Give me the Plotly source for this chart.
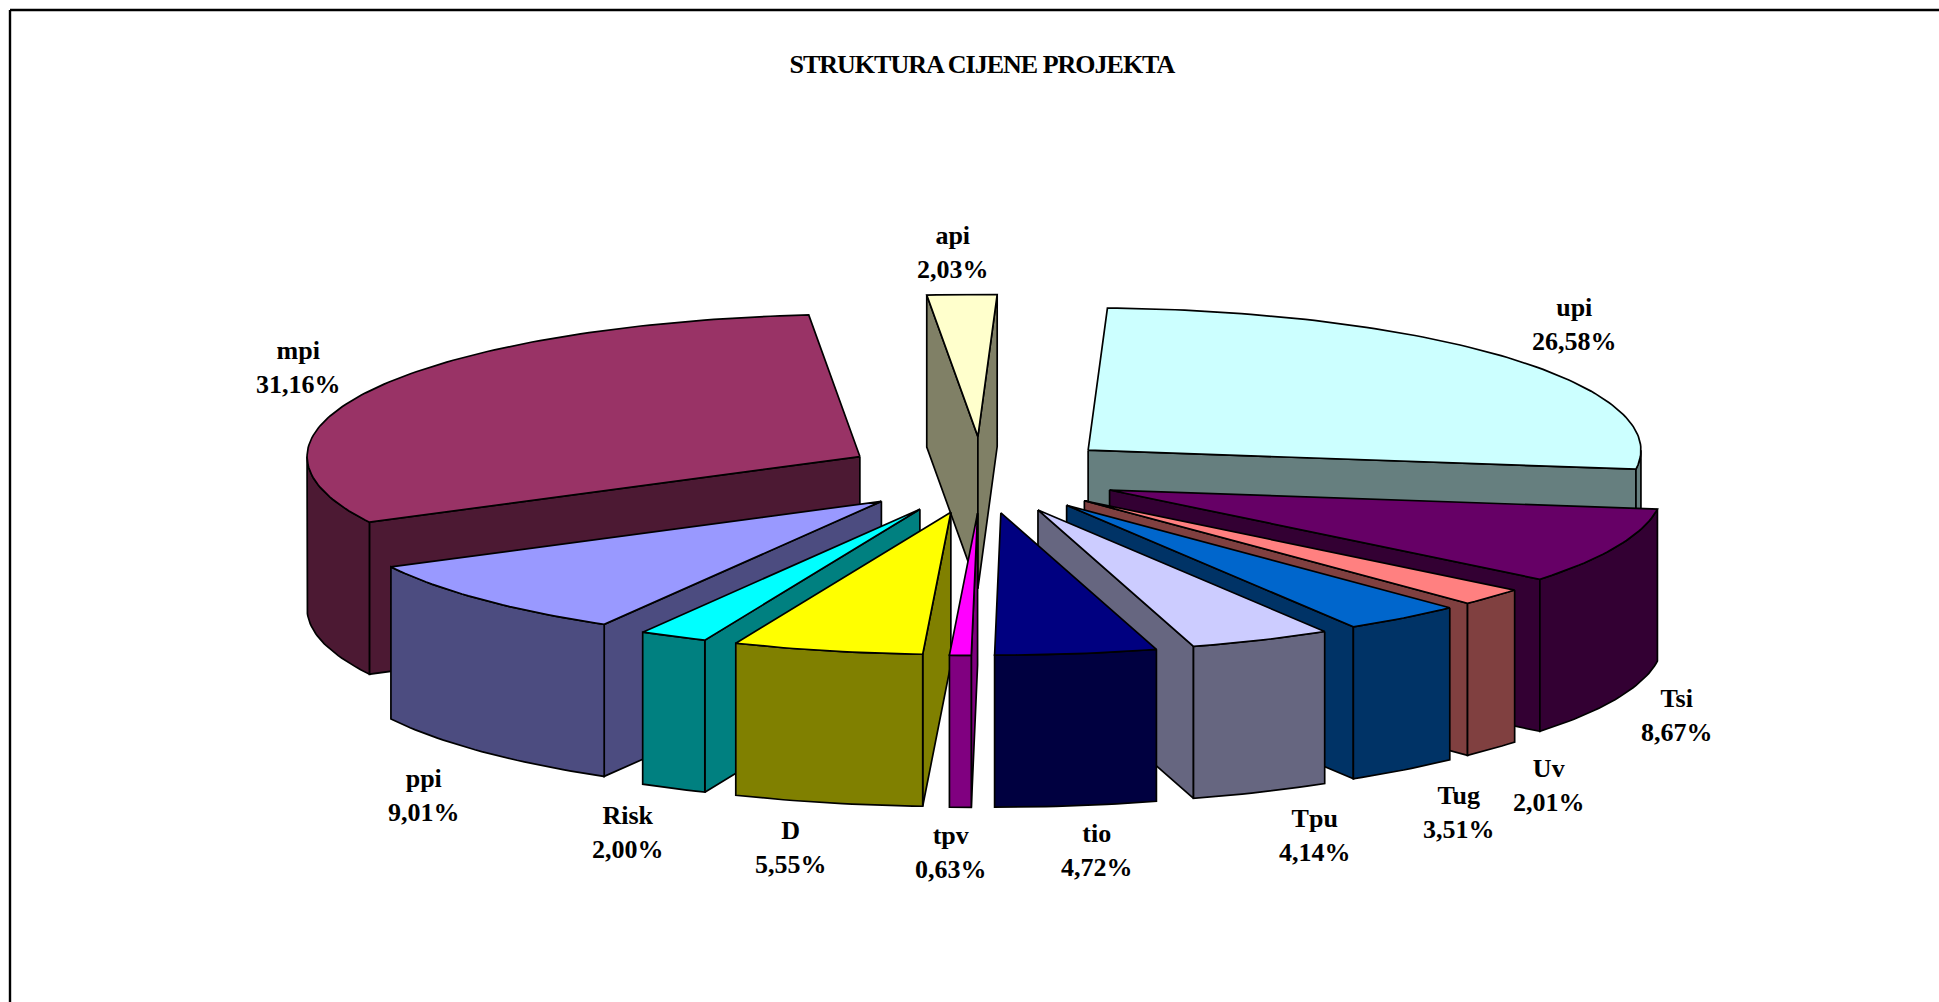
import math
import plotly.graph_objects as go

# --- data (clockwise from the top of the pie) ---
categories = ["upi", "Tsi", "Uv", "Tug", "Tpu", "tio", "tpv", "D", "Risk", "ppi", "mpi", "api"]
shares = [26.58, 8.67, 2.01, 3.51, 4.14, 4.72, 0.63, 5.55, 2.00, 9.01, 31.16, 2.03]
percent_labels = ["26,58%", "8,67%", "2,01%", "3,51%", "4,14%", "4,72%", "0,63%", "5,55%", "2,00%", "9,01%", "31,16%", "2,03%"]
top_colors = ["#CCFFFF", "#660066", "#FF8080", "#0066CC", "#CCCCFF", "#000080", "#FF00FF", "#FFFF00", "#00FFFF", "#9999FF", "#993366", "#FFFFCC"]
side_colors = ["#667F7F", "#330033", "#804040", "#003366", "#666680", "#000040", "#800080", "#808000", "#008080", "#4C4C80", "#4C1933", "#808066"]
label_x = [1574, 1677, 1549, 1459, 1315, 1097, 951, 791, 628, 424, 298, 953]
label_y = [324, 715, 785, 812, 835, 850, 852, 847, 832, 795, 367, 252]
title = "STRUKTURA CIJENE PROJEKTA"

# --- projection of the tilted, exploded pie ---
W, H_PX = 1939, 1002
CX, CY = 981.9, 474.9
RX, RY = 552.8, 142.2
EX, EY = 139.0, 38.3
DEPTH = 152.0
ROT = 2.0
total = sum(shares)


def point(angle, ox, oy, r=1.0, z=0.0):
    a = math.radians(angle)
    return ox + r * RX * math.sin(a), oy - r * RY * math.cos(a) + z


def arc(a0, a1, ox, oy, z=0.0):
    n = max(2, int(abs(a1 - a0) / 1.0) + 1)
    return [point(a0 + (a1 - a0) * i / (n - 1), ox, oy, 1.0, z) for i in range(n)]


def poly(fig, pts, color):
    xs = [p[0] for p in pts] + [pts[0][0]]
    ys = [p[1] for p in pts] + [pts[0][1]]
    fig.add_trace(go.Scatter(x=xs, y=ys, mode="lines", fill="toself", fillcolor=color,
                             line=dict(color="black", width=1.7), hoverinfo="skip", showlegend=False))


slices = []
acc = ROT
for name, v, top, side in zip(categories, shares, top_colors, side_colors):
    a0 = acc
    a1 = acc + v / total * 360
    acc = a1
    slices.append((a0, a1, top, side))

fig = go.Figure()
for a0, a1, top, side in sorted(slices, key=lambda s: -math.cos(math.radians((s[0] + s[1]) / 2))):
    mid = math.radians((a0 + a1) / 2)
    ox = CX + EX * math.sin(mid)
    oy = CY - EY * math.cos(mid)
    start, end = point(a0, ox, oy), point(a1, ox, oy)
    # start-edge wall faces the viewer when sin(a0) < 0, end-edge wall when sin(a1) > 0
    if math.sin(math.radians(a0)) < 0:
        poly(fig, [(ox, oy), start, (start[0], start[1] + DEPTH), (ox, oy + DEPTH)], side)
    if math.sin(math.radians(a1)) > 0:
        poly(fig, [(ox, oy), end, (end[0], end[1] + DEPTH), (ox, oy + DEPTH)], side)
    # curved outer wall: front half of the rim only
    lo, hi = max(a0, 90), min(a1, 270)
    if hi > lo:
        poly(fig, arc(lo, hi, ox, oy) + arc(hi, lo, ox, oy, DEPTH), side)
    poly(fig, [(ox, oy)] + arc(a0, a1, ox, oy), top)

for name, pct, lx, ly in zip(categories, percent_labels, label_x, label_y):
    fig.add_annotation(x=lx, y=ly, text=f"<b>{name}</b><br><b>{pct}</b>", showarrow=False, xanchor="center", yanchor="middle",
                       font=dict(family="Liberation Serif", size=26, color="black"))
fig.add_annotation(x=982, y=64, text=f"<b>{title}</b>", showarrow=False, xanchor="center", yanchor="middle",
                   font=dict(family="Liberation Serif", size=26, color="black"))

# chart frame (runs off the right and bottom of the page)
fig.add_shape(type="line", x0=10, y0=10, x1=W, y1=10, line=dict(color="black", width=2.4))
fig.add_shape(type="line", x0=10, y0=10, x1=10, y1=H_PX, line=dict(color="black", width=2.4))

fig.update_layout(width=W, height=H_PX, margin=dict(l=0, r=0, t=0, b=0), paper_bgcolor="white", plot_bgcolor="white",
                  showlegend=False,
                  xaxis=dict(range=[0, W], visible=False, fixedrange=True),
                  yaxis=dict(range=[H_PX, 0], visible=False, fixedrange=True))
post = """
document.body.style.margin='0';
document.documentElement.style.overflow='hidden';
var t=[...document.querySelectorAll('.annotation-text')];
t.forEach(function(e){ if(e.textContent.indexOf('STRUKTURA')>=0){ e.style.letterSpacing='-1px'; } });
"""
fig.write_html("out.html", config=dict(displayModeBar=False), post_script=post)
